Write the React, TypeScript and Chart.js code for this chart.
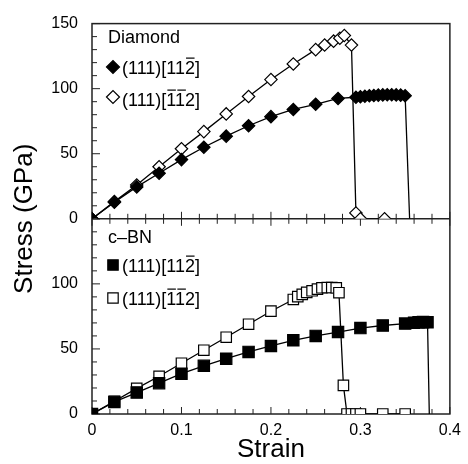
import React, { useEffect, useRef } from 'react';
import { Chart, registerables } from 'chart.js';

Chart.register(...registerables);

const FONT = "'Liberation Sans', Arial, Helvetica, sans-serif";

// Axis ticks
const xTicks = [0, 0.1, 0.2, 0.3, 0.4];
const xTickLabels = ['0', '0.1', '0.2', '0.3', '0.4'];
const yTicks = [0, 50, 100, 150];
const yTopLabels = ['0', '50', '100', '150'];
const yBottomLabels = ['0', '50', '100', ''];

// Titles / legends
const xTitle = 'Strain';
const yTitle = 'Stress (GPa)';
const panelTitles = ['Diamond', 'c–BN'];
const seriesText = '(111)[112]';
const barsA = [8]; // (111)[11-2]
const barsB = [6, 7]; // (111)[-1-12]

// Diamond (111)[11-2]  (filled diamonds)
const diamondAStrain = [0, 0.025, 0.05, 0.075, 0.1, 0.125, 0.15, 0.175, 0.2, 0.225, 0.25, 0.275, 0.295, 0.3, 0.305, 0.31, 0.315, 0.32, 0.325, 0.33, 0.335, 0.34, 0.345, 0.35, 0.355];
const diamondAStress = [0, 12.8, 24.5, 35, 45.5, 55, 63.5, 71.5, 78.5, 84, 88, 92.5, 93.4, 93.8, 94.2, 94.5, 94.8, 95, 95.2, 95.3, 95.3, 95.2, 95, 94.6, 0];

// Diamond (111)[-1-12]  (open diamonds)
const diamondBStrain = [0, 0.025, 0.05, 0.075, 0.1, 0.125, 0.15, 0.175, 0.2, 0.225, 0.25, 0.26, 0.27, 0.277, 0.282, 0.29, 0.295, 0.3, 0.327];
const diamondBStress = [0, 13.2, 26, 40, 53.8, 67, 80.6, 94, 107, 119, 130, 133.5, 136.5, 138.8, 140.8, 133.5, 4.5, 0, 0];

// c-BN (111)[11-2]  (filled squares)
const cbnAStrain = [0, 0.025, 0.05, 0.075, 0.1, 0.125, 0.15, 0.175, 0.2, 0.225, 0.25, 0.275, 0.3, 0.325, 0.35, 0.36, 0.365, 0.37, 0.375, 0.377];
const cbnAStress = [0, 9.3, 16.5, 23.7, 31, 37, 42.5, 47.7, 52.3, 56.6, 60, 63, 66, 68, 69.5, 70.2, 70.5, 70.6, 70.5, 0];

// c-BN (111)[-1-12]  (open squares)
const cbnBStrain = [0, 0.025, 0.05, 0.075, 0.1, 0.125, 0.15, 0.175, 0.2, 0.225, 0.23, 0.235, 0.24, 0.246, 0.252, 0.257, 0.263, 0.268, 0.273, 0.276, 0.281, 0.285, 0.29, 0.295, 0.3, 0.325, 0.35];
const cbnBStress = [0, 9.8, 19.7, 29, 39, 49, 59, 69, 79, 88, 90.2, 91.9, 93.4, 94.7, 96, 97, 97.2, 97.2, 97, 93.2, 22, 0, 0, 0, 0, 0, 0];

function makeDataset(xs: number[], ys: number[], yAxisID: string, style: string, filled: boolean, radius: number, hideLast: boolean) {
  return {
    data: xs.map((x, i) => ({ x, y: ys[i] })),
    yAxisID,
    showLine: true,
    borderColor: '#000',
    borderWidth: 1.3,
    tension: 0,
    fill: false,
    pointStyle: style,
    pointRadius: ys.map((_, i) => (hideLast && i === ys.length - 1 ? 0 : radius)),
    pointHoverRadius: 0,
    pointBackgroundColor: filled ? '#000' : '#fff',
    pointBorderColor: '#000',
    pointBorderWidth: 1.2,
  };
}

function drawMarker(ctx: CanvasRenderingContext2D, x: number, y: number, kind: 'diamond' | 'square', filled: boolean) {
  ctx.beginPath();
  if (kind === 'diamond') {
    const r = 6.5;
    ctx.moveTo(x - r, y);
    ctx.lineTo(x, y - r);
    ctx.lineTo(x + r, y);
    ctx.lineTo(x, y + r);
    ctx.closePath();
  } else {
    const h = 5.2;
    ctx.rect(x - h, y - h, 2 * h, 2 * h);
  }
  ctx.fillStyle = filled ? '#000' : '#fff';
  ctx.fill();
  ctx.lineWidth = 1.2;
  ctx.strokeStyle = '#000';
  ctx.stroke();
}

function drawBarText(ctx: CanvasRenderingContext2D, text: string, x: number, baseline: number, bars: number[], size: number) {
  ctx.font = `${size}px ${FONT}`;
  ctx.textAlign = 'left';
  ctx.textBaseline = 'alphabetic';
  ctx.fillStyle = '#000';
  ctx.fillText(text, x, baseline);
  ctx.strokeStyle = '#000';
  ctx.lineWidth = 1.2;
  for (const i of bars) {
    const x0 = x + ctx.measureText(text.slice(0, i)).width;
    const w = ctx.measureText(text[i]).width;
    const by = baseline - size * 0.716 - 3;
    ctx.beginPath();
    ctx.moveTo(x0 + 1, by);
    ctx.lineTo(x0 + w - 0.5, by);
    ctx.stroke();
  }
}

const decor = {
  id: 'decor',
  beforeDatasetsDraw(chart: any) {
    const { ctx, chartArea: a } = chart;
    const xs = chart.scales.x;
    const yT = chart.scales.yTop;
    const yB = chart.scales.yBot;
    const mid = yT.bottom;
    const line = (x1: number, y1: number, x2: number, y2: number) => {
      ctx.beginPath();
      ctx.moveTo(x1, y1);
      ctx.lineTo(x2, y2);
      ctx.stroke();
    };
    ctx.save();
    ctx.strokeStyle = '#222';
    ctx.lineWidth = 1.5;
    ctx.strokeRect(a.left, a.top, a.right - a.left, a.bottom - a.top);
    line(a.left, mid, a.right, mid);
    ctx.lineWidth = 1;
    for (const s of [yT, yB]) {
      for (let k = 0; k <= 15; k++) {
        const v = k * 10;
        const py = s.getPixelForValue(v);
        const len = k % 5 === 0 ? 8 : 5;
        line(a.left, py, a.left + len, py);
      }
    }
    for (let k = 0; k <= 20; k++) {
      const px = xs.getPixelForValue(k * 0.02);
      const len = k % 5 === 0 ? 7 : 5;
      line(px, a.bottom, px, a.bottom - len);
      line(px, mid, px, mid - len);
      line(px, mid, px, mid + len);
    }
    ctx.restore();
  },
  afterDraw(chart: any) {
    const { ctx, chartArea: a } = chart;
    const mid = chart.scales.yTop.bottom;
    ctx.save();
    // legend texts
    ctx.font = `18px ${FONT}`;
    ctx.fillStyle = '#000';
    ctx.textAlign = 'left';
    ctx.textBaseline = 'alphabetic';
    ctx.fillText(panelTitles[0], 108, 43);
    drawMarker(ctx, 113, 67, 'diamond', true);
    drawBarText(ctx, seriesText, 122, 74, barsA, 18);
    drawMarker(ctx, 113, 97, 'diamond', false);
    drawBarText(ctx, seriesText, 122, 106, barsB, 18);

    ctx.font = `18px ${FONT}`;
    ctx.fillText(panelTitles[1], 108, 243);
    drawMarker(ctx, 113, 265, 'square', true);
    drawBarText(ctx, seriesText, 122, 272, barsA, 18);
    drawMarker(ctx, 113, 298, 'square', false);
    drawBarText(ctx, seriesText, 122, 305, barsB, 18);

    // axis titles
    ctx.font = `26px ${FONT}`;
    ctx.textAlign = 'center';
    ctx.textBaseline = 'middle';
    ctx.fillText(xTitle, (a.left + a.right) / 2, 450);
    ctx.translate(25, mid);
    ctx.rotate(-Math.PI / 2);
    ctx.fillText(yTitle, 0, 0);
    ctx.restore();
  },
};

export default function App() {
  const ref = useRef<HTMLCanvasElement | null>(null);
  useEffect(() => {
    if (!ref.current) return;
    const tickFont = { family: FONT, size: 16 };
    const chart = new Chart(ref.current, {
      type: 'scatter',
      data: {
        datasets: [
          makeDataset(diamondAStrain, diamondAStress, 'yTop', 'rectRot', true, 6.2, true),
          makeDataset(diamondBStrain, diamondBStress, 'yTop', 'rectRot', false, 6.2, false),
          makeDataset(cbnAStrain, cbnAStress, 'yBot', 'rect', true, 8, true),
          makeDataset(cbnBStrain, cbnBStress, 'yBot', 'rect', false, 7.4, false),
        ] as any,
      },
      options: {
        responsive: false,
        animation: false,
        devicePixelRatio: 1,
        layout: { padding: { left: 52, top: 15, right: 15, bottom: 20 } },
        plugins: { legend: { display: false }, tooltip: { enabled: false } },
        events: [],
        scales: {
          x: {
            type: 'linear',
            position: 'bottom',
            min: 0,
            max: 0.4,
            afterBuildTicks: (s: any) => { s.ticks = xTicks.map((v) => ({ value: v })); },
            afterFit: (s: any) => { s.height = 30; },
            ticks: {
              callback: (_v: any, i: number) => xTickLabels[i],
              font: tickFont,
              color: '#000',
              padding: 7,
              maxRotation: 0,
              autoSkip: false,
            },
            grid: { display: false, drawTicks: false },
            border: { display: false },
          },
          yBot: {
            type: 'linear',
            position: 'left',
            stack: 'panels',
            stackWeight: 1,
            min: 0,
            max: 150,
            afterBuildTicks: (s: any) => { s.ticks = yTicks.map((v) => ({ value: v })); },
            afterFit: (s: any) => { s.width = 40; },
            ticks: { callback: (_v: any, i: number) => yBottomLabels[i], font: tickFont, color: '#000', padding: 14, autoSkip: false },
            grid: { display: false, drawTicks: false },
            border: { display: false },
          },
          yTop: {
            type: 'linear',
            position: 'left',
            stack: 'panels',
            stackWeight: 1,
            min: 0,
            max: 150,
            afterBuildTicks: (s: any) => { s.ticks = yTicks.map((v) => ({ value: v })); },
            afterFit: (s: any) => { s.width = 40; },
            ticks: { callback: (_v: any, i: number) => yTopLabels[i], font: tickFont, color: '#000', padding: 14, autoSkip: false },
            grid: { display: false, drawTicks: false },
            border: { display: false },
          },
        },
      } as any,
      plugins: [decor],
    });
    return () => chart.destroy();
  }, []);
  return (
    <div style={{ position: 'fixed', left: 0, top: 0, width: 468, height: 464, background: '#fff' }}>
      <canvas ref={ref} width={468} height={464} style={{ width: 468, height: 464, display: 'block' }} />
    </div>
  );
}
